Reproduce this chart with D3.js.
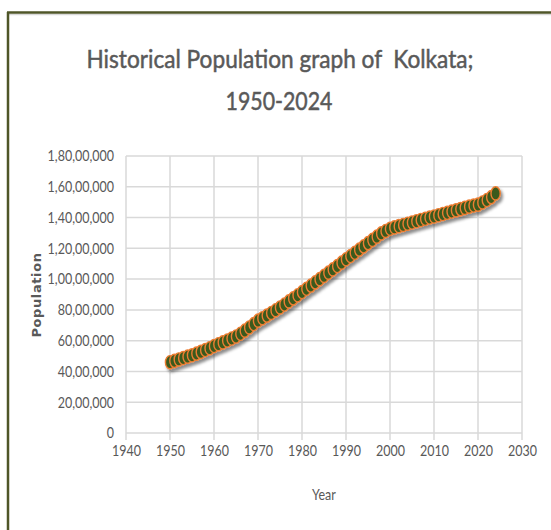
<!DOCTYPE html>
<html><head><meta charset="utf-8">
<script src="https://cdn.jsdelivr.net/npm/d3@7"></script>
<style>
html,body{margin:0;padding:0;background:#fff;}
svg{display:block;}
text{font-family:"Lato","Open Sans",sans-serif;white-space:pre;}
</style></head>
<body>
<script>
const titleLines = ["Historical Population graph of  Kolkata;", "1950-2024"];
const xLabel = "Year";
const yLabel = "Population";
const years = d3.range(1950, 2025);
// population (in persons)
const population = [
 4600000,4690000,4780000,4870000,4960000,5050000,5160000,5270000,5390000,5510000,
 5650000,5770000,5890000,6010000,6140000,6270000,6450000,6650000,6860000,7080000,
 7300000,7460000,7630000,7800000,7980000,8160000,8350000,8550000,8750000,8950000,
 9160000,9370000,9580000,9790000,10000000,10210000,10420000,10630000,10850000,11070000,
 11290000,11500000,11710000,11920000,12130000,12340000,12550000,12760000,12970000,13130000,
 13270000,13360000,13440000,13520000,13600000,13680000,13760000,13840000,13920000,14000000,
 14070000,14150000,14230000,14310000,14390000,14470000,14550000,14630000,14710000,14780000,
 14840000,14980000,15140000,15330000,15570000
];
const xTicks = [1940,1950,1960,1970,1980,1990,2000,2010,2020,2030];
const yTicks = [0,2000000,4000000,6000000,8000000,10000000,12000000,14000000,16000000,18000000];
const yTickLabels = ["0","20,00,000","40,00,000","60,00,000","80,00,000","1,00,00,000","1,20,00,000","1,40,00,000","1,60,00,000","1,80,00,000"];

const W = 551, H = 530;
const svg = d3.select("body").append("svg").attr("width", W).attr("height", H);
const defs = svg.append("defs");
const f = defs.append("filter").attr("id","shadow").attr("x","-50%").attr("y","-50%").attr("width","200%").attr("height","200%");
f.append("feDropShadow").attr("dx",2).attr("dy",3).attr("stdDeviation",1.8).attr("flood-color","#000").attr("flood-opacity",0.45);

// squeeze helper: condense text horizontally like the narrow original font
function squeeze(sel, k){
  sel.each(function(){
    const L = this.getComputedTextLength();
    if (L > 0) d3.select(this).attr("textLength", L*k).attr("lengthAdjust","spacingAndGlyphs");
  });
}

// frame
svg.append("line").attr("x1",8).attr("x2",W).attr("y1",14.5).attr("y2",14.5).attr("stroke","#d9d9d9").attr("stroke-width",1.5);
svg.append("line").attr("x1",7).attr("x2",W).attr("y1",12.5).attr("y2",12.5).attr("stroke","#4f5628").attr("stroke-width",2.5);
svg.append("line").attr("x1",8).attr("x2",8).attr("y1",12).attr("y2",H).attr("stroke","#4f5628").attr("stroke-width",2.5);

const x = d3.scaleLinear().domain([1940,2030]).range([126,522]);
const y = d3.scaleLinear().domain([0,18000000]).range([433,156]);

// gridlines
const grid = svg.append("g");
grid.selectAll("line.h").data(yTicks).join("line").attr("class","h")
  .attr("x1",126).attr("x2",522).attr("y1",d=>y(d)).attr("y2",d=>y(d))
  .attr("stroke","#d9d9d9").attr("stroke-width",1.5);
grid.selectAll("line.v").data(xTicks).join("line").attr("class","v")
  .attr("x1",d=>x(d)).attr("x2",d=>x(d)).attr("y1",156).attr("y2",440)
  .attr("stroke","#d9d9d9").attr("stroke-width",1.5);

// axes labels
const yAxis = d3.axisLeft(y).tickValues(yTicks).tickFormat((d,i)=>yTickLabels[i]).tickSize(0).tickPadding(12);
const gy = svg.append("g").attr("transform","translate(126,0)").call(yAxis);
gy.select(".domain").remove();
gy.selectAll("text").attr("fill","#595959").style("font-size","16px").style("font-family","Lato,sans-serif").attr("dy","0.3em");
squeeze(gy.selectAll("text"), 0.78);

const xAxis = d3.axisBottom(x).tickValues(xTicks).tickFormat(d3.format("d")).tickSize(0).tickPadding(12);
const gx = svg.append("g").attr("transform","translate(0,433)").call(xAxis);
gx.select(".domain").remove();
gx.selectAll("text").attr("fill","#595959").style("font-size","16px").style("font-family","Lato,sans-serif");
squeeze(gx.selectAll("text"), 0.78);

// titles
const t1 = svg.append("text").attr("x",280).attr("y",68).attr("text-anchor","middle")
  .attr("fill","#595959").attr("stroke","#595959").attr("stroke-width",0.5)
  .style("font-size","25px").text(titleLines[0]);
t1.attr("textLength",387).attr("lengthAdjust","spacingAndGlyphs");
const t2 = svg.append("text").attr("x",279).attr("y",110).attr("text-anchor","middle")
  .attr("fill","#595959").attr("stroke","#595959").attr("stroke-width",0.5)
  .style("font-size","25px").text(titleLines[1]);
t2.attr("textLength",107).attr("lengthAdjust","spacingAndGlyphs");
const tx = svg.append("text").attr("x",324).attr("y",500).attr("text-anchor","middle")
  .attr("fill","#595959").style("font-size","16px").text(xLabel);
squeeze(tx, 0.78);
svg.append("text").attr("transform","translate(41,295) rotate(-90)").attr("text-anchor","middle")
  .attr("fill","#595959").style("font-size","13px").style("font-weight","bold")
  .style("font-family","'DejaVu Sans',sans-serif").style("letter-spacing","0.6px").text(yLabel);

// series
const data = years.map((yr,i)=>({yr, v: population[i]}));
const series = svg.append("g").attr("filter","url(#shadow)");
series.append("path").datum(data)
  .attr("d", d3.line().x(d=>x(d.yr)).y(d=>y(d.v)))
  .attr("fill","none").attr("stroke","#ed7d31").attr("stroke-width",2);
series.selectAll("ellipse").data(data).join("ellipse")
  .attr("cx",d=>x(d.yr)).attr("cy",d=>y(d.v)).attr("rx",4.6).attr("ry",6.6)
  .attr("fill","#3b5a1f").attr("stroke","#ed7d31").attr("stroke-width",1.4);
</script>
</body></html>
